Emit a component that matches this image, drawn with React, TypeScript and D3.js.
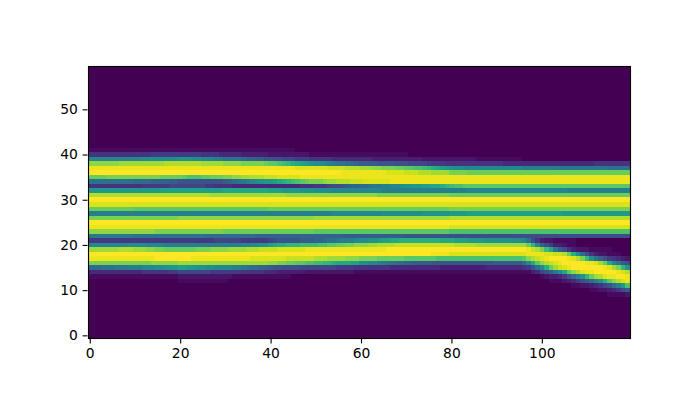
import * as d3 from "d3"
import { useRef, useEffect } from "react"

const width = 700
const height = 400
const margin = { top: 66.4, right: 70, bottom: 62.4, left: 87.5 }

const xTicks = [0, 20, 40, 60, 80, 100]
const yTicks = [0, 10, 20, 30, 40, 50]
const columnCount = 120
const rowCount = 60

// one string per image row, 12 chunks of 10 columns, base 36 levels (0 - z)
const firstRow = 9
const zero = "0000000000"
const rows: string[][] = [
  /* 9 */ [zero, zero, zero, zero, zero, zero, zero, zero, zero, zero, zero, "0000011112"],
  /* 10 */ [zero, zero, zero, zero, zero, zero, zero, zero, zero, zero, zero, "011223468a"],
  /* 11 */ [zero, zero, zero, zero, zero, zero, zero, zero, zero, zero, "0000000112", "234579cfjp"],
  /* 12 */ [zero, zero, "1111111111", "1000000000", zero, zero, zero, zero, zero, zero, "0011123468", "acfimqtvxy"],
  /* 13 */ ["1111111111", "1111111111", "2222222222", "2211111111", "1111100000", zero, zero, zero, zero, zero, "1233469cfi", "nruvxyyzzy"],
  /* 14 */ ["4444444444", "4455555566", "7777777666", "6666555554", "4433333322", "2222222221", "1111111111", "1111111111", "1111111111", "1111111134", "79behlqtvx", "yyzzzzzyxv"],
  /* 15 */ ["cccdddeeef", "ffggghhiij", "kkjjiihhgg", "ggffedccbb", "a998888777", "7777766665", "5555555444", "4444444433", "3333333344", "444444569d", "gmruwxyzzz", "zzzzyxusni"],
  /* 16 */ ["ssssssssss", "sssstttttt", "uuuuuuuuuu", "uuuuuuuuuu", "ttssrrqqpp", "oonnmlllkk", "hhggfeddcc", "bbaaaa9999", "9999999999", "aaaaaacglq", "tvwxyzzzzz", "yyxurlgda8"],
  /* 17 */ ["yyyyyyyyyy", "yyyyyzzzzz", "zzzyyyyyyy", "yyyyyyxxxx", "xxxxwwwwww", "vvvuuuuttt", "ssssrrrrrr", "qqqqqqqppp", "pppppppppp", "ppppppqtvw", "xyzzzzyxvs", "nhdb865432"],
  /* 18 */ ["zzzzzzzzzz", "zzzzzzzzzz", "zzzzzzzzzz", "zzzzzzzzzz", "zzzzzzzzzz", "zzzzzzzzzz", "zzzzzzzzzz", "zzzzzzyyyy", "xxxxxxxxxx", "xxxxxxxyyy", "yxxwwvrmhc", "8532211100"],
  /* 19 */ ["uuuuuuuvvv", "uuuttssrrr", "rrrrsssttt", "tuuuuvvvww", "wwxxxxxxyy", "yyyyyyyyyy", "yyyyyyzzzz", "zzzzzzzzzz", "zzzzzzzzzz", "zzzzzzzywv", "solea85322", "2111110000"],
  /* 20 */ ["gggggggggh", "hhhggggfff", "ffffffffff", "ffffgghhii", "klmmnnnooo", "oppqqrrsst", "ttuuvvvvww", "wwwwwwwwww", "wvvvvvuuuu", "uuuuuuurng", "b863321100", zero],
  /* 21 */ ["6666666666", "6666666666", "6666666677", "7777666666", "7899999aaa", "bbcddefffg", "hhiijkkllm", "mmmmmmmmll", "lkkkjjjjii", "iiiihhgd85", "3221111100", zero],
  /* 22 */ ["eeeeeeeeee", "dddddddddd", "ddddddcccc", "cccccccbbb", "bbbbbbbbbb", "bbbbbbaaaa", "aaaaaaaaaa", "9999999999", "8888888888", "8888888888", "8888888888", "8888888888"],
  /* 23 */ ["tttttttttt", "tttttsssss", "ssssssssss", "rrrrrrrrrr", "rrrrrrrrrr", "qqqqqqqqqq", "qqqqqqqqqq", "qqqqqqqqqq", "pppppppppp", "pppppppppp", "pppppppppp", "pppppppppp"],
  /* 24 */ ["yyyyyyyyyy", "yyyyyyyyyy", "yyyyyyyyyy", "yyyyyyyyyy", "yyyyyyyyyy", "yyyyyyyyyy", "yyyyyyyyyy", "yyyyyyyyyy", "xxxxxxxxxx", "xxxxxxxxxx", "xxxxxxxxxx", "xxxxxxxxxx"],
  /* 25 */ ["zzzzzzzzzz", "zzzzzzzzzz", "zzzzzzzzzz", "zzzzzzzzzz", "zzzzzzzzzz", "zzzzzzzzzz", "zzzzzzzzzz", "zzzzzzzzzz", "zzzzzzzzzz", "zzzzzzzzzz", "zzzzzzzzzz", "zzzzzzzzzz"],
  /* 26 */ ["ssssssssss", "ssssssssss", "tttttttttt", "tttttttttt", "tttttttttt", "uuuuuuuuuu", "uuuuuuuuuu", "uuuuuuuuuu", "vvvvvvvvvv", "vvvvvvvvvv", "vvvvvvvvvv", "vvvvvvvvvv"],
  /* 27 */ ["ffffffffff", "ffffffffff", "ffffffffff", "ffffffffff", "ffffffffff", "ffffgggggg", "ggggghhhhh", "hhhhiiiiii", "jjjjkkkkkk", "kkkkkkkkkk", "kkkkkjjjjj", "jjjjjjjjjj"],
  /* 28 */ ["rrrrrrrrrr", "qqqqqqqqqq", "qqqqqqqqqq", "qqqqqqqqqq", "rrrrrrrrrr", "rrrrrrrrrr", "rrrrrrrrrr", "rrrrrrrrrr", "ssssssssss", "ssssssssss", "ssssssssss", "ssssssssss"],
  /* 29 */ ["xxxxxxxxxx", "xxxxxxxxxx", "xxxxxxxxxx", "xxxxxxxxxx", "xxxxxxxxxx", "xxxxxxxxxx", "xxxxxxxxxx", "xxxxxxxxxx", "xxxxxxxxxx", "xxxxxxxxxx", "xxxxxxxxxx", "xxxxxxxxxx"],
  /* 30 */ ["zzzzzzzzzz", "zzzzzzzzzz", "zzzzzzzzzz", "zzzzzzzzzz", "zzzzzzzzzz", "zzzzzzzzzz", "zzzzzzzzzz", "zzzzzzzzzz", "zzzzzzzzzz", "zzzzzzzzzz", "zzzzzzzzzz", "zzzzzzzzzz"],
  /* 31 */ ["vvvvvvvvvv", "vvvvvvvvvv", "vvvvvvvuuu", "uuuuuuuuuu", "uuuutttttt", "tttttttttt", "ttttssssss", "ssssssssss", "rrrrrrrrrr", "rrrrrrrrrr", "rrrrrrrrrr", "rrrrrrrrrr"],
  /* 32 */ ["jjjjjjjjjj", "jjjjjjkkkk", "kkkkkkkkkk", "llllllllll", "kkkjjjjiii", "hhhhgggggg", "gggggfffff", "ffffffffff", "ffffgggggg", "gggggggggg", "ggggggffff", "ffffffffff"],
  /* 33 */ ["5555555555", "5566666677", "7777776655", "5544444444", "4444444555", "6667889abb", "ccdeeffggh", "iijjkkllmn", "oppqqqqqqq", "qqqqqqqqqq", "qqqqqqqqqq", "qqqqqqqqqq"],
  /* 34 */ ["dddddddddd", "ccccbbbbaa", "9999999999", "abcdefghij", "jklmnopqrs", "sstuuvvvww", "wxxxxxxyyy", "yyyyyyyyyy", "yyyyyyyyyy", "yyyyyyyyyy", "yyyyyyyyyy", "yyyyyyyyyy"],
  /* 35 */ ["rrrrssssss", "ssssssrrrr", "rqpppqqrrr", "ssttuuvvvw", "wwxxxxxyyy", "yyyyyyyyyy", "yyyyyyyyyy", "yyyyyyyyyy", "yyyyyyyyyy", "yyyyyyyyyy", "yyyyyyyyyy", "yyyyyyyyyy"],
  /* 36 */ ["zzzzzzzzzz", "zzzzzzzzzz", "zzzzzzzzzz", "zzzzzzzzzz", "zzzzzzzzzz", "zzzzzzyyyy", "yyyyyyxxxx", "wwwvvvuuuu", "ssssrrrrrr", "rrrrrrrrrr", "rrrrrrrrrr", "rrrrrrrrrr"],
  /* 37 */ ["yyyyyyyyyy", "yyyyyyyyyy", "yyyyyyyyyy", "yyyyyyyyyy", "yyyyyyxxxx", "xxxwwwwvvv", "uuuttsssrr", "qqpponmlkj", "ihhggggggg", "ggggggffff", "ffffeeeeee", "eeeeeddddd"],
  /* 38 */ ["tttttttuuu", "uuuuuuuvvv", "vvvvvuuuuu", "ttttsssssr", "qqponmlkji", "hhgfeddccb", "aaaa999988", "8777766665", "5555555555", "5544444444", "4444444444", "4455555555"],
  /* 39 */ ["gggggggggg", "gghhhhhhhh", "iiihhgggff", "ddddcbbaa9", "9887776665", "5555444444", "4443333333", "3333222222", "2222221111", "1111110000", zero, zero],
  /* 40 */ ["5555555555", "5555666666", "6666655554", "4444333333", "2222222221", "1111111111", "1111111111", "1000000000", zero, zero, zero, zero],
  /* 41 */ ["1111111111", "1111111111", "1111111111", "1111111111", "1111110000", zero, zero, zero, zero, zero, zero, zero],
]

const maxLevel = 35

type Cell = { col: number; row: number; level: number }

const cells: Cell[] = []
d3.range(rowCount).forEach((row) => {
  const text = (rows[row - firstRow] ?? []).join("")
  d3.range(columnCount).forEach((col) => {
    cells.push({ col, row, level: text ? parseInt(text[col], 36) : 0 })
  })
})

export default function App() {
  const svgRef = useRef<SVGSVGElement>(null)

  useEffect(() => {
    if (!svgRef.current) return
    document.body.style.margin = "0"

    const svg = d3.select(svgRef.current)
    svg.selectAll("*").remove()

    const xScale = d3
      .scaleLinear()
      .domain([-0.5, columnCount - 0.5])
      .range([margin.left, width - margin.right])
    const yScale = d3
      .scaleLinear()
      .domain([-0.5, rowCount - 0.5])
      .range([height - margin.bottom, margin.top])
    const color = d3.scaleSequential(d3.interpolateViridis).domain([0, maxLevel])

    svg
      .append("g")
      .attr("shape-rendering", "crispEdges")
      .selectAll("rect")
      .data(cells)
      .enter()
      .append("rect")
      .attr("x", (d) => Math.round(xScale(d.col - 0.5)))
      .attr("y", (d) => Math.round(yScale(d.row + 0.5)))
      .attr("width", (d) => Math.round(xScale(d.col + 0.5)) - Math.round(xScale(d.col - 0.5)))
      .attr("height", (d) => Math.round(yScale(d.row - 0.5)) - Math.round(yScale(d.row + 0.5)))
      .attr("fill", (d) => color(d.level))

    const tickStyle = (g: d3.Selection<SVGGElement, unknown, null, undefined>) => {
      g.select(".domain").remove()
      g.selectAll("line").attr("stroke", "#000").attr("stroke-width", 1.11)
      g.selectAll("text")
        .style("font-size", "13.89px")
        .style("font-family", "'DejaVu Sans', sans-serif")
        .style("fill", "#000")
    }

    svg
      .append("g")
      .attr("transform", `translate(0,${height - margin.bottom})`)
      .call(d3.axisBottom(xScale).tickValues(xTicks).tickSize(5.86).tickPadding(4.86).tickFormat(d3.format("d")))
      .call(tickStyle)

    svg
      .append("g")
      .attr("transform", `translate(${margin.left},0)`)
      .call(d3.axisLeft(yScale).tickValues(yTicks).tickSize(4.86).tickPadding(4.86).tickFormat(d3.format("d")))
      .call(tickStyle)

    // spines sit on whole pixels
    const frameLeft = Math.round(margin.left) + 0.5
    const frameRight = Math.round(width - margin.right) + 0.5
    const frameTop = Math.round(margin.top) + 0.5
    const frameBottom = Math.round(height - margin.bottom) + 0.5
    svg
      .append("rect")
      .attr("x", frameLeft)
      .attr("y", frameTop)
      .attr("width", frameRight - frameLeft)
      .attr("height", frameBottom - frameTop)
      .attr("fill", "none")
      .attr("stroke", "#000")
      .attr("stroke-width", 1.11)
  }, [])

  return <svg ref={svgRef} width={width} height={height} style={{ display: "block" }}></svg>
}
